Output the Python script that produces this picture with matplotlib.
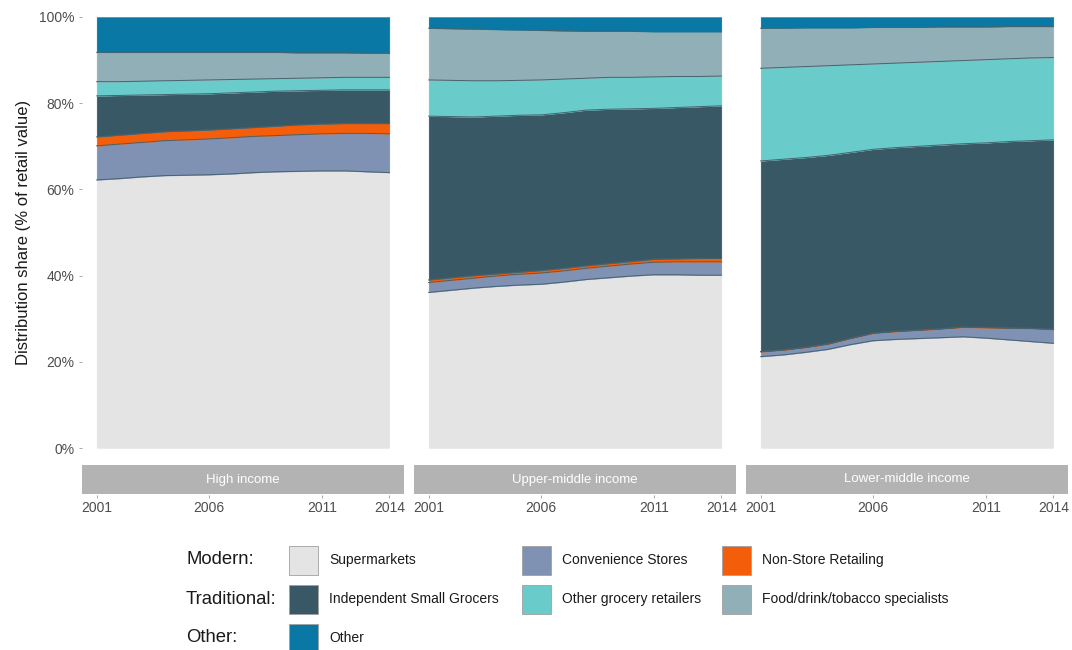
import numpy as np
import matplotlib
matplotlib.use("Agg")
from matplotlib import pyplot as plt
from matplotlib.patches import Rectangle

plt.rcParams['font.family'] = ['Liberation Sans', 'DejaVu Sans']

years = list(range(2001, 2015))
panels = ['High income', 'Upper-middle income', 'Lower-middle income']
series = ['Supermarkets', 'Convenience Stores', 'Non-Store Retailing',
          'Independent Small Grocers', 'Other grocery retailers',
          'Food/drink/tobacco specialists', 'Other']
colors = ['#e4e4e4', '#7f92b4', '#f45d0a', '#395866', '#69cbca', '#91afb6', '#0a78a5']

# shares (% of retail value), one list per series, per income group
high = [
    [62.2, 62.5, 62.9, 63.2, 63.3, 63.4, 63.6, 63.9, 64.1, 64.2, 64.3, 64.3, 64.1, 63.9],
    [7.9, 8.0, 8.0, 8.1, 8.2, 8.3, 8.4, 8.4, 8.4, 8.5, 8.6, 8.7, 8.9, 9.0],
    [2.1, 2.1, 2.1, 2.1, 2.1, 2.1, 2.1, 2.1, 2.2, 2.3, 2.3, 2.3, 2.3, 2.4],
    [9.5, 9.2, 8.9, 8.6, 8.5, 8.4, 8.3, 8.2, 8.1, 7.9, 7.8, 7.8, 7.8, 7.8],
    [3.3, 3.2, 3.2, 3.2, 3.2, 3.2, 3.1, 3.0, 2.9, 2.9, 2.9, 2.9, 2.9, 2.9],
    [6.8, 6.8, 6.7, 6.6, 6.5, 6.4, 6.3, 6.2, 6.1, 5.9, 5.8, 5.7, 5.6, 5.6],
    [8.2, 8.2, 8.2, 8.2, 8.2, 8.2, 8.2, 8.2, 8.2, 8.3, 8.3, 8.3, 8.4, 8.4],
]
upper_middle = [
    [36.1, 36.6, 37.1, 37.5, 37.8, 38.0, 38.5, 39.1, 39.5, 39.9, 40.2, 40.2, 40.1, 40.1],
    [2.3, 2.3, 2.3, 2.4, 2.5, 2.6, 2.6, 2.6, 2.7, 2.8, 2.9, 3.0, 3.1, 3.1],
    [0.6, 0.6, 0.6, 0.5, 0.5, 0.6, 0.6, 0.6, 0.6, 0.6, 0.7, 0.7, 0.8, 0.8],
    [38.0, 37.4, 36.8, 36.6, 36.4, 36.1, 36.1, 36.1, 35.8, 35.4, 35.0, 35.1, 35.2, 35.4],
    [8.4, 8.4, 8.4, 8.2, 8.1, 8.1, 7.8, 7.4, 7.4, 7.3, 7.3, 7.2, 7.0, 6.9],
    [12.0, 12.0, 12.0, 11.9, 11.7, 11.5, 11.2, 10.9, 10.7, 10.7, 10.5, 10.4, 10.4, 10.3],
    [2.6, 2.7, 2.8, 2.9, 3.0, 3.1, 3.2, 3.3, 3.3, 3.3, 3.4, 3.4, 3.4, 3.4],
]
lower_middle = [
    [21.2, 21.6, 22.2, 22.9, 24.0, 24.9, 25.2, 25.4, 25.6, 25.8, 25.5, 25.1, 24.7, 24.3],
    [1.1, 1.1, 1.1, 1.2, 1.4, 1.7, 1.8, 1.9, 2.0, 2.2, 2.4, 2.7, 3.0, 3.2],
    [0.1, 0.1, 0.1, 0.1, 0.1, 0.1, 0.1, 0.1, 0.1, 0.1, 0.1, 0.1, 0.1, 0.1],
    [44.2, 44.2, 44.0, 43.7, 43.1, 42.6, 42.6, 42.6, 42.6, 42.5, 42.8, 43.2, 43.5, 43.9],
    [21.5, 21.3, 21.1, 20.8, 20.3, 19.8, 19.6, 19.5, 19.4, 19.3, 19.3, 19.2, 19.2, 19.1],
    [9.3, 9.1, 9.0, 8.8, 8.6, 8.5, 8.3, 8.1, 8.0, 7.8, 7.6, 7.5, 7.3, 7.2],
    [2.6, 2.6, 2.5, 2.5, 2.5, 2.4, 2.4, 2.4, 2.3, 2.3, 2.3, 2.2, 2.2, 2.2],
]
data = [high, upper_middle, lower_middle]
xticks = [2001, 2006, 2011, 2014]

W, H = 1072, 650
fig = plt.figure(figsize=(W / 100, H / 100), dpi=100)


def px(x0, y0, x1, y1):
    # pixel box (top-left origin) -> figure fraction rect
    return [x0 / W, 1 - y1 / H, (x1 - x0) / W, (y1 - y0) / H]


panel_x = [(82, 404), (414, 736), (746, 1068)]
tick_col = '#4d4d4d'

for i, (x0, x1) in enumerate(panel_x):
    ax = fig.add_axes(px(x0, 17, x1, 448))
    yrs = np.array(years)
    base = np.zeros(len(years))
    tops = []
    for vals, col in zip(data[i], colors):
        top = base + np.array(vals)
        ax.fill_between(yrs, base, top, facecolor=col, edgecolor=col, linewidth=0.3)
        tops.append(top)
        base = top
    # boundary lines between layers
    for top in tops[:-1]:
        ax.plot(yrs, top, color='#46636f', linewidth=0.7)
    ax.set_xlim(2001 - 0.65, 2014 + 0.65)
    ax.set_ylim(0, 100)
    for s in ax.spines.values():
        s.set_visible(False)
    ax.spines['bottom'].set_position(('outward', 34))
    ax.set_xticks(xticks)
    ax.set_xticklabels([str(t) for t in xticks])
    ax.tick_params(axis='x', length=2.5, width=0.6, color='#999999', labelsize=10,
                   labelcolor=tick_col, pad=2)
    ax.set_yticks([0, 20, 40, 60, 80, 100])
    if i == 0:
        ax.set_yticklabels(['0%', '20%', '40%', '60%', '80%', '100%'])
        ax.tick_params(axis='y', length=2.5, width=0.6, color='#999999', labelsize=10,
                       labelcolor=tick_col, pad=3)
        ax.set_ylabel('Distribution share (% of retail value)', fontsize=12, color='#1a1a1a',
                      labelpad=6)
    else:
        ax.tick_params(axis='y', length=0, labelleft=False)

    # facet strip below panel
    sax = fig.add_axes(px(x0, 465, x1, 494))
    sax.set_xlim(0, 1)
    sax.set_ylim(0, 1)
    sax.add_patch(Rectangle((0, 0), 1, 1, facecolor='#b3b3b3', edgecolor='none'))
    sax.text(0.5, 0.5, panels[i], ha='center', va='center', color='white', fontsize=9.5)
    sax.axis('off')

# legend drawn by hand, grouped by row
lax = fig.add_axes([0, 0, 1, 1])
lax.set_xlim(0, W)
lax.set_ylim(H, 0)
lax.axis('off')
row_labels = ['Modern:', 'Traditional:', 'Other:']
row_y = [560, 599, 638]
col_key_x = [289, 522, 722]
for r, lab in enumerate(row_labels):
    lax.text(186, row_y[r], lab, ha='left', va='center', fontsize=13.3, color='#1a1a1a')
for k, (name, col) in enumerate(zip(series, colors)):
    r, c = divmod(k, 3)
    kx, ky = col_key_x[c], row_y[r]
    lax.add_patch(Rectangle((kx, ky - 14.5), 29, 29, facecolor=col, edgecolor='#a0a0a0',
                            linewidth=0.6))
    lax.text(kx + 40, ky, name, ha='left', va='center', fontsize=10, color='#1a1a1a')

fig.savefig('out.png', dpi=100)
